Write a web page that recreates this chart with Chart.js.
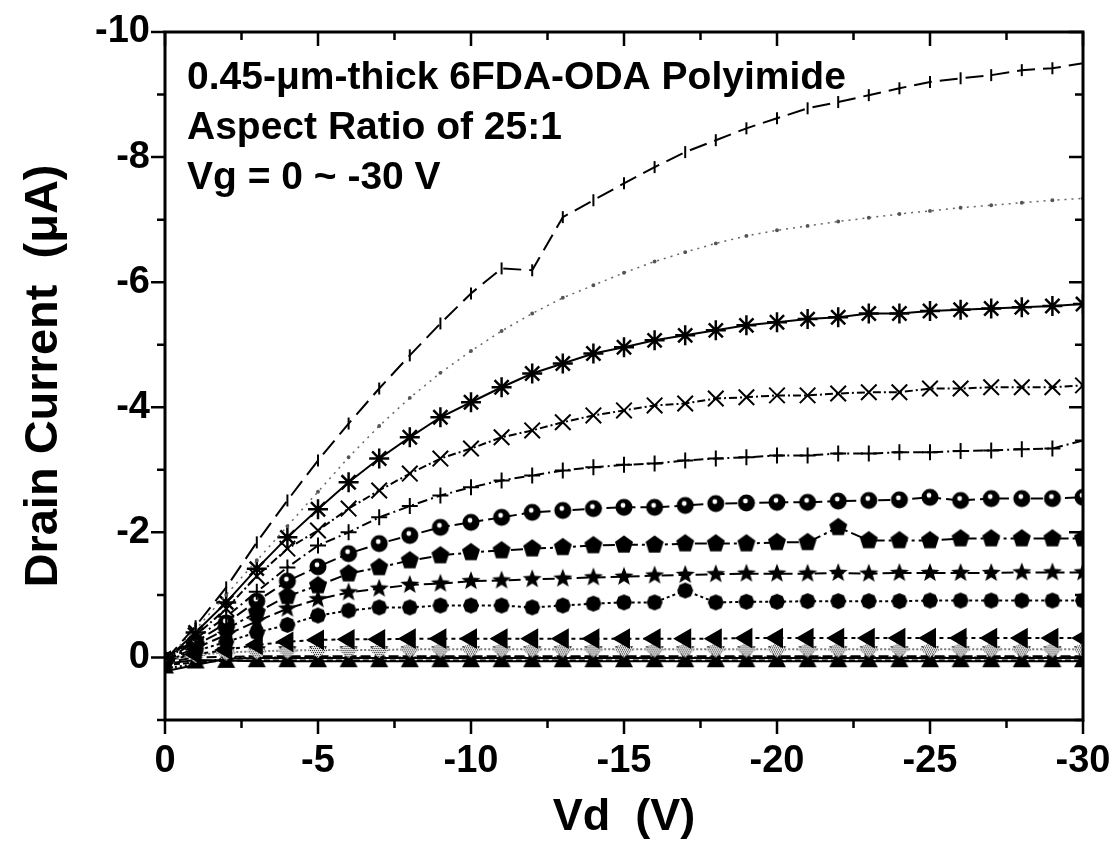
<!DOCTYPE html>
<html>
<head>
<meta charset="utf-8">
<script src="https://cdn.jsdelivr.net/npm/chart.js@4.4.1/dist/chart.umd.min.js"></script>
<style>
html,body{margin:0;padding:0;background:#fff;}
#wrap{width:1119px;height:845px;}
</style>
</head>
<body>
<div id="wrap"><canvas id="c" width="1119" height="845"></canvas></div>
<script>
// ---- data ----
const vd = [0,-1,-2,-3,-4,-5,-6,-7,-8,-9,-10,-11,-12,-13,-14,-15,-16,-17,-18,-19,-20,-21,-22,-23,-24,-25,-26,-27,-28,-29,-30];
const xTicks = [0,-5,-10,-15,-20,-25,-30];
const yTicks = [-10,-8,-6,-4,-2,0];
const xMinor = [-2.5,-7.5,-12.5,-17.5,-22.5,-27.5];
const yMinor = [-9,-7,-5,-3,-1,1];
const annotation = ["0.45-\u03bcm-thick 6FDA-ODA Polyimide","Aspect Ratio of 25:1","Vg = 0 ~ -30 V"];

const vg30 = [0.05,-0.5,-1.12,-1.84,-2.51,-3.15,-3.74,-4.30,-4.83,-5.34,-5.82,-6.22,-6.19,-7.04,-7.31,-7.58,-7.84,-8.08,-8.27,-8.46,-8.62,-8.78,-8.88,-8.99,-9.10,-9.20,-9.26,-9.31,-9.39,-9.42,-9.50];
const vg28 = [0.05,-0.45,-1.0,-1.55,-2.1,-2.65,-3.2,-3.7,-4.15,-4.55,-4.9,-5.22,-5.5,-5.75,-5.95,-6.15,-6.33,-6.48,-6.62,-6.74,-6.83,-6.9,-6.97,-7.03,-7.09,-7.14,-7.19,-7.23,-7.27,-7.31,-7.34];
const vg26 = [0.05,-0.4,-0.88,-1.42,-1.92,-2.37,-2.8,-3.18,-3.52,-3.84,-4.08,-4.32,-4.54,-4.70,-4.86,-4.96,-5.07,-5.15,-5.23,-5.31,-5.36,-5.41,-5.44,-5.50,-5.50,-5.54,-5.56,-5.58,-5.60,-5.62,-5.65];
const vg24 = [0.05,-0.35,-0.78,-1.3,-1.74,-2.03,-2.38,-2.67,-2.94,-3.18,-3.34,-3.52,-3.63,-3.76,-3.87,-3.95,-4.03,-4.06,-4.14,-4.16,-4.19,-4.19,-4.22,-4.24,-4.24,-4.30,-4.30,-4.32,-4.32,-4.32,-4.35];
const vg22 = [0.05,-0.3,-0.65,-1.05,-1.44,-1.79,-2.0,-2.24,-2.42,-2.59,-2.72,-2.83,-2.91,-2.99,-3.04,-3.08,-3.10,-3.15,-3.18,-3.20,-3.23,-3.23,-3.26,-3.26,-3.28,-3.28,-3.30,-3.31,-3.33,-3.34,-3.47];
const vg20 = [0.05,-0.25,-0.55,-0.9,-1.22,-1.45,-1.66,-1.82,-1.95,-2.08,-2.16,-2.24,-2.32,-2.35,-2.38,-2.40,-2.40,-2.43,-2.46,-2.47,-2.48,-2.48,-2.50,-2.51,-2.52,-2.56,-2.51,-2.54,-2.54,-2.54,-2.56];
const vg18 = [0.05,-0.2,-0.45,-0.72,-0.98,-1.15,-1.34,-1.44,-1.55,-1.63,-1.68,-1.71,-1.74,-1.76,-1.79,-1.80,-1.80,-1.82,-1.82,-1.82,-1.84,-1.84,-2.08,-1.87,-1.87,-1.87,-1.90,-1.90,-1.90,-1.90,-1.90];
const vg16 = [0.05,-0.15,-0.36,-0.58,-0.78,-0.93,-1.04,-1.10,-1.16,-1.18,-1.22,-1.23,-1.25,-1.26,-1.28,-1.29,-1.31,-1.32,-1.33,-1.34,-1.34,-1.34,-1.35,-1.34,-1.35,-1.35,-1.35,-1.35,-1.36,-1.36,-1.36];
const vg14 = [0.05,-0.1,-0.25,-0.4,-0.52,-0.67,-0.75,-0.80,-0.80,-0.83,-0.83,-0.83,-0.80,-0.83,-0.86,-0.88,-0.88,-1.07,-0.88,-0.89,-0.89,-0.90,-0.90,-0.90,-0.90,-0.91,-0.91,-0.91,-0.91,-0.91,-0.91];
const vg12 = [0.05,-0.05,-0.12,-0.2,-0.25,-0.28,-0.29,-0.29,-0.30,-0.30,-0.30,-0.30,-0.30,-0.30,-0.30,-0.30,-0.30,-0.30,-0.30,-0.31,-0.31,-0.31,-0.31,-0.31,-0.31,-0.31,-0.31,-0.31,-0.31,-0.31,-0.31];
const vg10 = [0.06,-0.04,-0.08,-0.10,-0.11,-0.12,-0.12,-0.12,-0.13,-0.13,-0.13,-0.13,-0.13,-0.13,-0.13,-0.13,-0.13,-0.13,-0.13,-0.13,-0.13,-0.13,-0.13,-0.13,-0.13,-0.13,-0.13,-0.13,-0.13,-0.13,-0.13];
const vg8  = [0.08,0.00,-0.01,-0.02,-0.02,-0.02,-0.02,-0.02,-0.02,-0.02,-0.02,-0.02,-0.02,-0.02,-0.02,-0.02,-0.02,-0.02,-0.02,-0.02,-0.02,-0.02,-0.02,-0.02,-0.02,-0.02,-0.02,-0.02,-0.02,-0.02,-0.02];
const vg6  = [0.10,0.04,0.05,0.06,0.06,0.06,0.06,0.06,0.06,0.06,0.06,0.06,0.06,0.06,0.06,0.06,0.06,0.06,0.06,0.06,0.06,0.06,0.06,0.06,0.06,0.06,0.06,0.06,0.06,0.06,0.06];
const vg4  = [0.12,0.08,0.05,0.05,0.05,0.05,0.05,0.05,0.05,0.05,0.05,0.05,0.05,0.05,0.05,0.05,0.05,0.05,0.05,0.05,0.05,0.05,0.05,0.05,0.05,0.05,0.05,0.05,0.05,0.05,0.05];
const vg2  = [0.18,0.10,0.01,0.00,0.00,0.00,0.00,0.00,0.00,0.00,0.00,0.00,0.00,0.00,0.00,0.00,0.00,0.00,0.00,0.00,0.00,0.00,0.00,0.00,0.00,0.00,0.00,0.00,0.00,0.00,0.00];
const vg0  = [0.22,0.12,0.02,0.01,0.01,0.01,0.01,0.01,0.01,0.01,0.01,0.01,0.01,0.01,0.01,0.01,0.01,0.01,0.01,0.01,0.01,0.01,0.01,0.01,0.01,0.01,0.01,0.01,0.01,0.01,0.01];

// ---- marker images ----
function marker(sz, fn){const c=document.createElement('canvas');c.width=c.height=sz;const g=c.getContext('2d');g.translate(sz/2,sz/2);fn(g);return c;}
function poly(g,n,r,rot){g.beginPath();for(let i=0;i<n;i++){const a=rot+i*2*Math.PI/n;g.lineTo(r*Math.cos(a),r*Math.sin(a));}g.closePath();}
const mPent = marker(22,g=>{poly(g,5,9.5,-Math.PI/2);g.fillStyle='#000';g.fill();});
const mHex = marker(20,g=>{poly(g,8,8,0);g.fillStyle='#000';g.fill();});
const mStar = marker(22,g=>{g.beginPath();for(let i=0;i<10;i++){const r=i%2?4.2:10;const a=-Math.PI/2+i*Math.PI/5;g.lineTo(r*Math.cos(a),r*Math.sin(a));}g.closePath();g.fillStyle='#000';g.fill();});
const mCirc = marker(22,g=>{g.beginPath();g.arc(0,0,8.5,0,2*Math.PI);g.fillStyle='#000';g.fill();g.beginPath();g.arc(-1,-2,2.4,0,2*Math.PI);g.fillStyle='#fff';g.fill();});
const mGray = marker(24,g=>{g.save();g.beginPath();g.moveTo(0,-8);g.lineTo(10,0);g.lineTo(0,8);g.lineTo(-10,0);g.closePath();g.clip();g.fillStyle='#e0e0e0';g.fillRect(-12,-12,24,24);g.fillStyle='#333';for(let i=-12;i<12;i+=2)for(let j=-12;j<12;j+=2){g.fillRect(i+((j/2)%2?1:0),j,1,1);}g.restore();});
const mHour = marker(26,g=>{g.beginPath();g.moveTo(-9,-10);g.lineTo(9,-10);g.lineTo(3,0);g.lineTo(9,11);g.lineTo(-9,11);g.lineTo(-3,0);g.closePath();g.fillStyle='#000';g.fill();});

const ds = (arr, o) => Object.assign({data: vd.map((x,i)=>({x:x,y:arr[i]})), borderColor:'#000', backgroundColor:'#000', borderWidth:2, pointBorderColor:'#000', pointBackgroundColor:'#000', tension:0}, o);

const datasets = [
  ds(vg30,{borderDash:[18,8], pointStyle:'line', rotation:90, pointRadius:6, pointBorderWidth:2}),
  ds(vg28,{borderColor:'#666', borderWidth:1.5, borderDash:[2,5], pointStyle:'circle', pointRadius:1.2, pointBackgroundColor:'#555', pointBorderColor:'#555'}),
  ds(vg26,{pointStyle:'star', pointRadius:10, pointBorderWidth:2.5}),
  ds(vg24,{borderDash:[8,3,2,3], pointStyle:'crossRot', pointRadius:11, pointBorderWidth:2}),
  ds(vg22,{borderDash:[10,4,2,4], pointStyle:'cross', pointRadius:8, pointBorderWidth:2}),
  ds(vg20,{borderDash:[12,5], pointStyle:mCirc}),
  ds(vg18,{borderDash:[12,4,3,4], pointStyle:mPent}),
  ds(vg16,{borderDash:[12,5], pointStyle:mStar}),
  ds(vg14,{borderDash:[3,3], pointStyle:mHex}),
  ds(vg12,{borderDash:[4,4], pointStyle:'triangle', rotation:-90, pointRadius:10}),
  ds(vg10,{borderColor:'#777', borderDash:[2,2], pointStyle:mGray}),
  ds(vg8,{borderDash:[10,4], pointStyle:mHour}),
  ds(vg6,{pointRadius:0}),
  ds(vg4,{borderDash:[6,3], pointRadius:0}),
  ds(vg2,{borderDash:[2,3], pointRadius:0}),
  ds(vg0,{pointRadius:0})
];

const FONT = "'Liberation Sans', Arial, sans-serif";

const framePlugin = {
  id:'frame',
  afterDatasetsDraw(chart){
    const {ctx, chartArea:a, scales:{x,y}} = chart;
    ctx.save();
    ctx.strokeStyle='#000';
    ctx.lineWidth=3;
    ctx.strokeRect(a.left, a.top, a.right-a.left, a.bottom-a.top);
    ctx.lineWidth=2.5;
    const MJ=14, MN=8;
    ctx.beginPath();
    xTicks.forEach(v=>{const p=x.getPixelForValue(v);ctx.moveTo(p,a.bottom);ctx.lineTo(p,a.bottom+MJ);ctx.moveTo(p,a.top);ctx.lineTo(p,a.top+MJ);});
    xMinor.forEach(v=>{const p=x.getPixelForValue(v);ctx.moveTo(p,a.bottom);ctx.lineTo(p,a.bottom+MN);ctx.moveTo(p,a.top);ctx.lineTo(p,a.top+MN);});
    yTicks.forEach(v=>{const p=y.getPixelForValue(v);ctx.moveTo(a.left,p);ctx.lineTo(a.left-MJ,p);ctx.moveTo(a.right,p);ctx.lineTo(a.right-MJ,p);});
    yMinor.forEach(v=>{const p=y.getPixelForValue(v);ctx.moveTo(a.left,p);ctx.lineTo(a.left-MN,p);ctx.moveTo(a.right,p);ctx.lineTo(a.right-MN,p);});
    ctx.stroke();
    ctx.restore();
  },
  afterDraw(chart){
    const {ctx, chartArea:a} = chart;
    ctx.save();
    ctx.fillStyle='#000';
    ctx.font = "bold 39px " + FONT;
    ctx.textBaseline='alphabetic';
    ctx.textAlign='left';
    annotation.forEach((t,i)=>ctx.fillText(t, a.left+22, a.top+57+i*50));
    ctx.restore();
  }
};

new Chart(document.getElementById('c'), {
  type:'line',
  data:{datasets},
  options:{
    responsive:false, animation:false, devicePixelRatio:1,
    layout:{padding:{left:0, top:32, right:36, bottom:0}},
    plugins:{legend:{display:false}, tooltip:{enabled:false}},
    scales:{
      x:{type:'linear', min:-30, max:0, reverse:true,
        afterBuildTicks:s=>{s.ticks = xTicks.map(v=>({value:v}));},
        afterFit:s=>{s.height=125; s.paddingLeft=0; s.paddingRight=0;},
        grid:{display:false, drawTicks:false}, border:{display:false},
        ticks:{color:'#000', padding:19, maxRotation:0, autoSkip:false, font:{family:FONT, size:38, weight:'bold'}, callback:v=>String(v)},
        title:{display:true, text:'Vd  (V)', color:'#000', font:{family:FONT, size:45, weight:'bold'}, padding:{top:0,bottom:0}}
      },
      y:{type:'linear', min:-10, max:1, reverse:true,
        afterBuildTicks:s=>{s.ticks = yTicks.map(v=>({value:v}));},
        afterFit:s=>{s.width=165; s.paddingTop=0; s.paddingBottom=0;},
        grid:{display:false, drawTicks:false}, border:{display:false},
        ticks:{color:'#000', padding:15, autoSkip:false, font:{family:FONT, size:38, weight:'bold'}, callback:v=>String(v)},
        title:{display:true, text:'Drain Current  (\u03bcA)', color:'#000', font:{family:FONT, size:47, weight:'bold'}, padding:{top:16,bottom:0}}
      }
    }
  },
  plugins:[framePlugin]
});
</script>
</body>
</html>
